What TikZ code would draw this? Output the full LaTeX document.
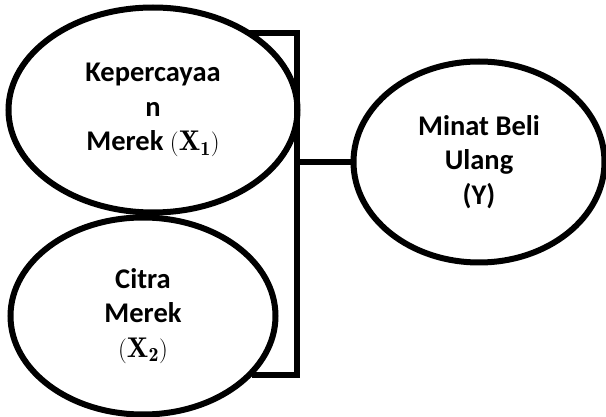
\documentclass[tikz,border=0pt]{standalone}
\usepackage{fontspec}
\newfontfamily\carlito{Carlito}
\usepackage{tikz}
\usetikzlibrary{shapes.geometric,positioning,calc}

\begin{document}
\begin{tikzpicture}[
  x=1pt,y=-1pt,
  line width=6pt,
  varoval/.style={
    draw,
    ellipse,
    inner sep=0pt,
    align=center,
    minimum width=#1,
    font=\carlito\bfseries\fontsize{28.5}{34.5}\selectfont
    },
  conn/.style={
    draw,
    line join=miter
    }
]
\useasboundingbox (0,0) rectangle (606,417);

% variabel bebas
\node[varoval=289pt,minimum height=205pt]
  (kepercayaan) at (153,110)
  {Kepercayaa\\n\\Merek $(\mathbf{X}_{\mathbf{1}})$};
\node[varoval=265pt,minimum height=197pt]
  (citra) at (143,316)
  {Citra\\Merek\\$(\mathbf{X}_{\mathbf{2}})$};

% variabel terikat
\node[varoval=251pt,minimum height=201pt]
  (minat) at (479,162)
  {Minat Beli\\Ulang\\(Y)};

\coordinate (bracket top) at (297,33);
\coordinate (bracket bottom) at (297,375);

\draw[conn] (bracket top -| kepercayaan.40) -- (bracket top)
  -- (bracket bottom) -- (bracket bottom -| citra.-29);
\draw[conn] (minat.west) -- (minat.west -| bracket top);

\end{tikzpicture}
\end{document}
